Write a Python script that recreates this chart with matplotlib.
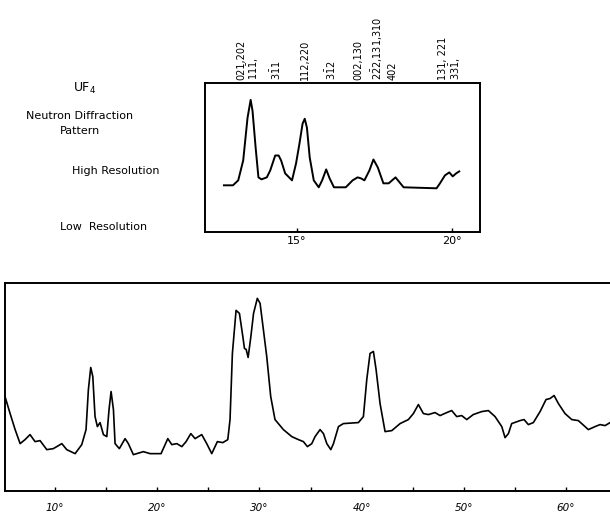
import matplotlib.pyplot as plt

# high resolution scan (upper panel), angle in degrees, intensity in arbitrary units
hi_angle = [12.66, 12.95, 13.12, 13.28, 13.42, 13.52, 13.58, 13.68, 13.77, 13.87,
            14.04, 14.15, 14.31, 14.42, 14.50, 14.63, 14.85, 14.98, 15.09, 15.19,
            15.26, 15.33, 15.42, 15.55, 15.71, 15.82, 15.95, 16.06, 16.20, 16.58,
            16.80, 16.96, 17.07, 17.18, 17.34, 17.47, 17.61, 17.79, 17.96, 18.18,
            18.31, 18.44, 19.50, 19.61, 19.77, 19.91, 20.02, 20.13, 20.23]
hi_int = [47, 47, 52, 72, 115, 133, 122, 85, 55, 53,
          55, 62, 77, 77, 72, 59, 52, 69, 89, 109,
          114, 105, 75, 52, 45, 52, 63, 54, 45, 45,
          52, 55, 54, 52, 62, 73, 65, 49, 49, 55,
          50, 45, 44, 49, 57, 60, 56, 59, 61]

# low resolution scan (lower panel)
lo_angle = [5.10, 5.60, 6.09, 6.58, 7.06, 7.55, 8.04, 8.53, 9.19, 9.83,
            10.66, 11.14, 11.96, 12.61, 13.03, 13.26, 13.49, 13.69, 13.91, 14.14,
            14.40, 14.73, 15.06, 15.28, 15.48, 15.71, 15.87, 16.29, 16.85, 17.17,
            17.66, 18.64, 19.30, 20.37, 21.03, 21.42, 21.91, 22.40, 22.82, 23.28,
            23.70, 24.35, 24.84, 25.33, 25.88, 26.41, 26.90, 27.12, 27.35, 27.71,
            28.04, 28.37, 28.53, 28.70, 28.89, 29.16, 29.42, 29.79, 30.06, 30.38,
            30.71, 31.10, 31.52, 32.34, 33.16, 33.81, 34.30, 34.69, 35.12, 35.44,
            35.93, 36.26, 36.59, 36.98, 37.24, 37.73, 38.21, 39.68, 40.17, 40.50,
            40.82, 41.15, 41.41, 41.80, 42.29, 42.95, 43.76, 44.57, 45.06, 45.55,
            46.04, 46.53, 47.18, 47.67, 48.33, 48.81, 49.30, 49.79, 50.28, 50.92,
            51.75, 52.40, 53.05, 53.71, 54.03, 54.36, 54.68, 55.50, 55.89, 56.31,
            56.80, 57.46, 58.04, 58.43, 58.83, 59.25, 59.90, 60.56, 61.20, 61.64,
            62.18, 62.84, 63.33, 63.82, 64.31]
lo_int = [94, 77, 61, 47, 51, 56, 49, 50, 41, 42,
          47, 41, 37, 46, 61, 101, 123, 114, 74, 64,
          68, 56, 54, 81, 99, 81, 47, 42, 52, 47,
          36, 39, 37, 37, 52, 46, 47, 44, 49, 57,
          52, 56, 47, 37, 49, 48, 51, 71, 137, 180,
          177, 154, 142, 141, 133, 154, 177, 192, 187, 161,
          134, 94, 71, 61, 54, 51, 49, 44, 47, 54,
          61, 57, 47, 41, 47, 64, 67, 68, 74, 111,
          137, 139, 121, 87, 59, 60, 67, 71, 77, 86,
          77, 76, 78, 75, 78, 80, 74, 75, 71, 76,
          79, 80, 74, 64, 53, 57, 67, 70, 71, 66,
          68, 79, 91, 92, 95, 87, 77, 71, 70, 66,
          61, 64, 66, 65, 68]

# reflection labels above the upper panel
refl_pos = [13.46, 14.32, 15.26, 16.09, 16.98, 17.60, 18.10, 19.95]
refl_txt = ["021,202\n$11\\bar{1}$,", "$3\\bar{1}1$", "112,220", "$3\\bar{1}2$",
            "002,130", "$2\\bar{2}2$,131,310", "402", "131, 221\n$33\\bar{1}$,"]

plt.rcParams['font.family'] = 'DejaVu Sans'
plt.rcParams['mathtext.default'] = 'regular'

fig = plt.figure(figsize=(6.1, 5.14), dpi=100)

# upper panel
ax1 = fig.add_axes([0.336, 0.5486, 0.451, 0.29])
ax1.plot(hi_angle, hi_int, color='black', lw=1.4, solid_joinstyle='round')
ax1.set_xlim(12.05, 20.9)
ax1.set_ylim(0, 150)
ax1.set_yticks([])
ax1.set_xticks([15, 20])
ax1.set_xticklabels(['15°', '20°'], fontsize=8)
ax1.tick_params(axis='x', direction='in', length=3, pad=3, width=1)
for s in ax1.spines.values():
    s.set_linewidth(1.4)

for pos, txt in zip(refl_pos, refl_txt):
    ax1.text(pos, 1.02, txt, transform=ax1.get_xaxis_transform(), rotation=90,
             ha='center', va='bottom', multialignment='left', fontsize=7,
             linespacing=1.0)

# side captions
fig.text(85 / 610, 1 - 88 / 514, 'UF$_4$', ha='center', va='center', fontsize=9)
fig.text(80 / 610, 1 - 116 / 514, 'Neutron Diffraction', ha='center', va='center', fontsize=8)
fig.text(80 / 610, 1 - 131 / 514, 'Pattern', ha='center', va='center', fontsize=8)
fig.text(116 / 610, 1 - 171 / 514, 'High Resolution', ha='center', va='center', fontsize=8)
fig.text(104 / 610, 1 - 227 / 514, 'Low  Resolution', ha='center', va='center', fontsize=8)

# lower panel
ax2 = fig.add_axes([0.0082, 0.0453, 0.9918, 0.4035])
ax2.plot(lo_angle, lo_int, color='black', lw=1.2, solid_joinstyle='round')
ax2.set_xlim(5.1, 64.3)
ax2.set_ylim(0, 207)
ax2.set_yticks([])
ax2.set_xticks([10, 20, 30, 40, 50, 60])
ax2.set_xticklabels(['10°', '20°', '30°', '40°', '50°', '60°'], fontsize=7.5, style='italic')
ax2.set_xticks([15, 25, 35, 45, 55], minor=True)
ax2.tick_params(axis='x', which='both', direction='in', length=3, pad=9, width=1)
ax2.spines['right'].set_visible(False)
for s in ax2.spines.values():
    s.set_linewidth(1.4)

fig.savefig('out.png', dpi=100)
